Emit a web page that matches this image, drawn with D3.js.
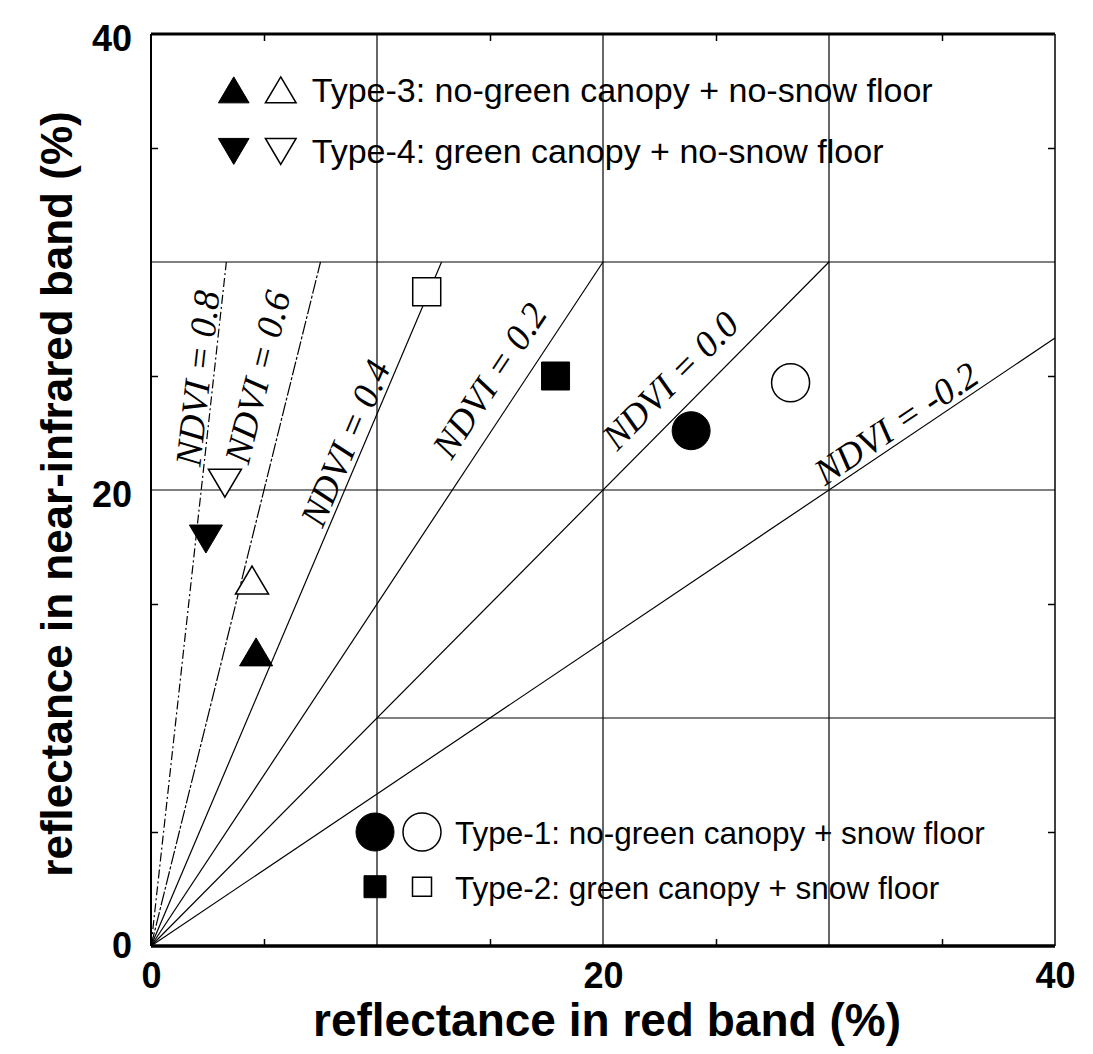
<!DOCTYPE html>
<html>
<head>
<meta charset="utf-8">
<script src="https://cdn.jsdelivr.net/npm/d3@7"></script>
<style>
  body { margin: 0; background: #fff; }
  svg { display: block; }
</style>
</head>
<body>
<div class="canvas"></div>
<script>
// ---- data ----
const types = ['Type-1', 'Type-2', 'Type-3', 'Type-4'];
const typeNames = [
    'Type-1: no-green canopy + snow floor',
    'Type-2: green canopy + snow floor',
    'Type-3: no-green canopy + no-snow floor',
    'Type-4: green canopy + no-snow floor'
];
const markerShapes = ['circle', 'square', 'triangleUp', 'triangleDown'];

// filled symbols
const redFilled = [23.9, 17.9, 4.65, 2.43];
const nirFilled = [22.6, 25.0, 12.9, 17.85];
// open symbols
const redOpen = [28.3, 12.2, 4.47, 3.27];
const nirOpen = [24.7, 28.7, 16.05, 20.3];

// iso-NDVI lines
const ndviValues = [0.8, 0.6, 0.4, 0.2, 0.0, -0.2];
const ndviLabels = ['NDVI = 0.8', 'NDVI = 0.6', 'NDVI = 0.4', 'NDVI = 0.2', 'NDVI = 0.0', 'NDVI = -0.2'];
const ndviLabelRed = [2.04, 4.69, 8.58, 14.96, 22.96, 32.96];
const ndviLabelNir = [24.9, 24.96, 22.06, 24.82, 24.82, 22.94];

const majorTicks = [0, 20, 40];
const minorTicks = [5, 15, 25, 35];
const gridValues = [10, 20, 30];

// ---- svg + dimensions ----
const width = 1093, height = 1054;
const margin = { top: 34, right: 38, bottom: 108, left: 151 };
const graphWidth = width - margin.left - margin.right;
const graphHeight = height - margin.top - margin.bottom;

const svg = d3.select('.canvas')
    .append('svg')
    .attr('width', width)
    .attr('height', height);

svg.append('rect').attr('width', width).attr('height', height).attr('fill', '#fff');

const graph = svg.append('g')
    .attr('transform', `translate(${margin.left}, ${margin.top})`);

const x = d3.scaleLinear().domain([0, 40]).range([0, graphWidth]);
const y = d3.scaleLinear().domain([0, 40]).range([graphHeight, 0]);

// grid lines
graph.selectAll('.vgrid')
    .data(gridValues)
    .enter().append('line')
    .attr('x1', d => x(d)).attr('x2', d => x(d))
    .attr('y1', y(0)).attr('y2', y(40))
    .attr('stroke', '#000').attr('stroke-width', 1.2);

graph.selectAll('.hgrid')
    .data(gridValues)
    .enter().append('line')
    .attr('x1', d => d === 10 ? x(10) : x(0)) // lowest line starts at red = 10
    .attr('x2', x(40))
    .attr('y1', d => y(d)).attr('y2', d => y(d))
    .attr('stroke', '#000').attr('stroke-width', 1.2);

// iso-NDVI lines: nir = red * (1 + n) / (1 - n), stop at nir = 30 or red = 40
const slope = n => (1 + n) / (1 - n);
graph.selectAll('.ndvi')
    .data(ndviValues)
    .enter().append('line')
    .attr('x1', x(0)).attr('y1', y(0))
    .attr('x2', n => x(Math.min(30 / slope(n), 40)))
    .attr('y2', n => y(slope(n) * Math.min(30 / slope(n), 40)))
    .attr('stroke', '#000')
    .attr('stroke-width', 1.2)
    .attr('stroke-dasharray', (n, i) => i === 0 ? '9,3,2,3' : (i === 1 ? '14,2,3,2' : null));

// labels along the lines
const pxAngle = n => Math.atan2(y(0) - y(slope(n)), x(1) - x(0)) * 180 / Math.PI;
graph.selectAll('.ndviLabel')
    .data(ndviValues)
    .enter().append('text')
    .attr('transform', (n, i) => `translate(${x(ndviLabelRed[i])}, ${y(ndviLabelNir[i])}) rotate(${-pxAngle(n)})`)
    .attr('text-anchor', 'middle')
    .attr('dy', '0.35em')
    .attr('font-family', '"Liberation Serif", "Times New Roman", serif')
    .attr('font-style', 'italic')
    .attr('font-size', 37)
    .text((n, i) => ndviLabels[i]);

// ---- markers ----
const markerPath = (shape, s) => {
    if (shape === 'square') {
        return `M${-s / 2},${-s / 2}h${s}v${s}h${-s}Z`;
    }
    if (shape === 'triangleUp') {
        const w = s * 1.18, h = s;
        return `M0,${-h / 2}L${w / 2},${h / 2}L${-w / 2},${h / 2}Z`;
    }
    if (shape === 'triangleDown') {
        const w = s * 1.18, h = s;
        return `M0,${h / 2}L${w / 2},${-h / 2}L${-w / 2},${-h / 2}Z`;
    }
    return d3.arc()({ innerRadius: 0, outerRadius: s / 2, startAngle: 0, endAngle: 2 * Math.PI });
};
const dataSize = [38, 28, 28, 28];

const addMarker = (parent, shape, s, cx, cy, filled) => {
    parent.append('path')
        .attr('d', markerPath(shape, s))
        .attr('transform', `translate(${cx}, ${cy})`)
        .attr('fill', filled ? '#000' : '#fff')
        .attr('stroke', '#000')
        .attr('stroke-width', filled ? 1 : 1.5);
};

types.forEach((t, i) => {
    addMarker(graph, markerShapes[i], dataSize[i], x(redOpen[i]), y(nirOpen[i]), false);
    addMarker(graph, markerShapes[i], dataSize[i], x(redFilled[i]), y(nirFilled[i]), true);
});

// ---- frame ----
graph.append('line').attr('x1', 0).attr('x2', graphWidth).attr('y1', 0).attr('y2', 0)
    .attr('stroke', '#000').attr('stroke-width', 3);
graph.append('line').attr('x1', 0).attr('x2', graphWidth).attr('y1', graphHeight).attr('y2', graphHeight)
    .attr('stroke', '#000').attr('stroke-width', 3.5);
graph.append('line').attr('x1', 0).attr('x2', 0).attr('y1', 0).attr('y2', graphHeight)
    .attr('stroke', '#000').attr('stroke-width', 2);
graph.append('line').attr('x1', graphWidth).attr('x2', graphWidth).attr('y1', 0).attr('y2', graphHeight)
    .attr('stroke', '#000').attr('stroke-width', 1.5);

// ---- axes ----
const tickFont = g => g.selectAll('text')
    .attr('font-family', '"Liberation Sans", Arial, sans-serif')
    .attr('font-weight', 'bold')
    .attr('font-size', 36)
    .attr('fill', '#000');

const xAxisGroup = graph.append('g').attr('transform', `translate(0, ${graphHeight})`);
xAxisGroup.call(d3.axisBottom(x).tickValues(majorTicks).tickSize(0).tickPadding(16))
    .call(g => g.select('.domain').remove())
    .call(tickFont);

const yAxisGroup = graph.append('g');
yAxisGroup.call(d3.axisLeft(y).tickValues(majorTicks).tickSize(0).tickPadding(19))
    .call(g => g.select('.domain').remove())
    .call(tickFont)
    .call(g => g.selectAll('text').attr('dy', d => d === 0 ? '0.32em' : '0.45em'));

// small inward ticks on all four sides
const minor = [
    [d3.axisBottom(x), `translate(0, ${graphHeight})`],
    [d3.axisTop(x), 'translate(0, 0)'],
    [d3.axisLeft(y), 'translate(0, 0)'],
    [d3.axisRight(y), `translate(${graphWidth}, 0)`]
];
minor.forEach(([axis, tr]) => {
    graph.append('g').attr('transform', tr)
        .call(axis.tickValues(minorTicks).tickSize(-7).tickFormat(''))
        .call(g => g.select('.domain').remove())
        .call(g => g.selectAll('line').attr('stroke-width', 1.5));
});

// axis titles
svg.append('text')
    .attr('x', margin.left + graphWidth / 2 + 4)
    .attr('y', 1036)
    .attr('text-anchor', 'middle')
    .attr('font-family', '"Liberation Sans", Arial, sans-serif')
    .attr('font-weight', 'bold')
    .attr('font-size', 46)
    .text('reflectance in red band (%)');

svg.append('text')
    .attr('transform', `translate(72, ${margin.top + graphHeight / 2 + 4}) rotate(-90)`)
    .attr('text-anchor', 'middle')
    .attr('font-family', '"Liberation Sans", Arial, sans-serif')
    .attr('font-weight', 'bold')
    .attr('font-size', 44)
    .text('reflectance in near-infrared band (%)');

// ---- legends (filled + open symbol, then label) ----
// Type-1 / Type-2 at bottom right, Type-3 / Type-4 at top left
const legendRed = [10, 10, 3.75, 3.75];
const legendNir = [5.0, 2.6, 37.55, 34.85];
const legendSize = [38, 22, 26, 26];
const legendFont = [31.5, 31.5, 34, 34];
const legend = svg.append('g').attr('transform', `translate(${margin.left}, ${margin.top})`);
types.forEach((t, i) => {
    const cx = x(legendRed[i]) - 2, cy = y(legendNir[i]);
    addMarker(legend, markerShapes[i], legendSize[i], cx, cy, true);
    addMarker(legend, markerShapes[i], i === 1 ? 19 : legendSize[i], cx + 47, cy, false);
    legend.append('text')
        .attr('x', cx + (i < 2 ? 80 : 78))
        .attr('y', cy + 12)
        .attr('font-family', '"Liberation Sans", Arial, sans-serif')
        .attr('font-size', legendFont[i])
        .text(typeNames[i]);
});
</script>
</body>
</html>
